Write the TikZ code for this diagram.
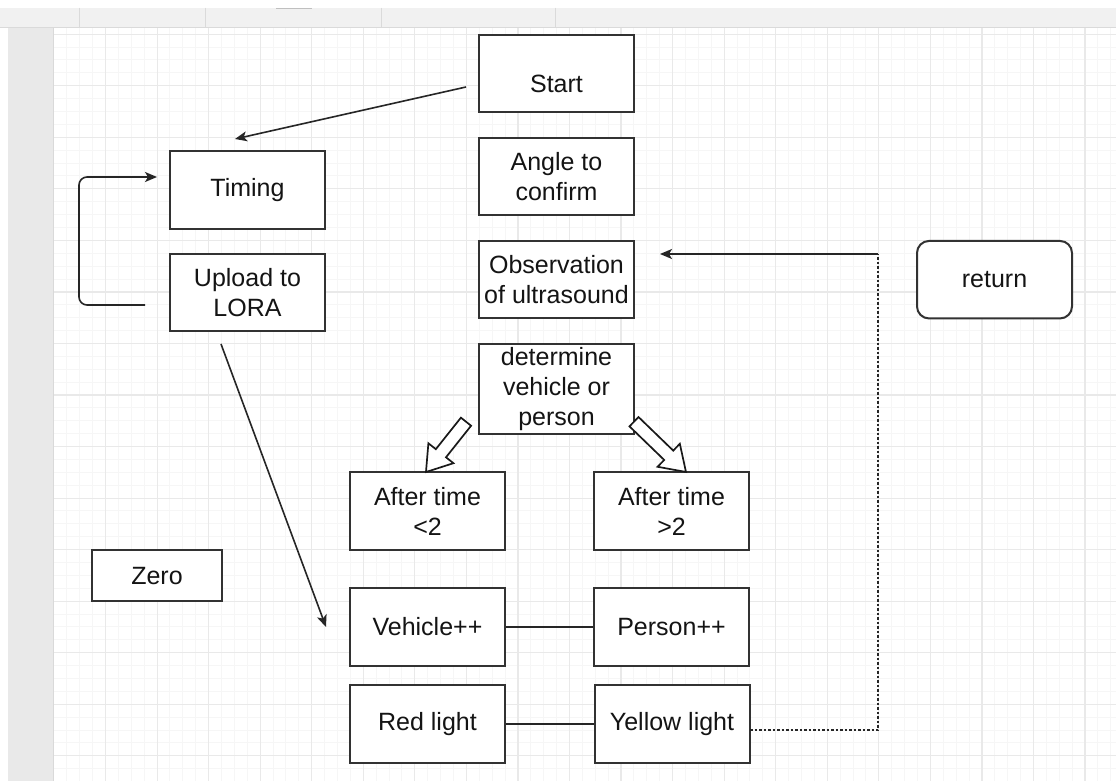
\documentclass[tikz,border=0pt]{standalone}
\usepackage{fontspec}
\setmainfont{Liberation Sans}
\usetikzlibrary{arrows.meta}
\definecolor{gridminor}{RGB}{246,246,246}
\definecolor{gridmajor}{RGB}{233,233,233}
\definecolor{toolbarbg}{RGB}{241,241,241}
\definecolor{toolbarln}{RGB}{218,218,218}
\definecolor{sidebarbg}{RGB}{233,233,233}
\definecolor{boxline}{RGB}{50,50,50}
\definecolor{txtcol}{RGB}{20,20,20}
\begin{document}
\begin{tikzpicture}[x=1pt,y=-1pt,
  box/.style={draw=boxline, line width=2pt, fill=white, minimum width=155pt,
    minimum height=77.5pt, inner sep=0pt, align=center,
    font=\fontsize{25}{30}\selectfont, text=txtcol},
  lbl/.style={inner sep=0pt, font=\fontsize{25}{30}\selectfont, text=txtcol},
  edge/.style={draw=black!85, line width=1.6pt},
  tipped/.style={-{Stealth[length=12pt,width=10pt,inset=3pt]}},
  dottedge/.style={draw=black!85, line width=1.6pt, dash pattern=on 2.5pt off 2pt},
  blockarrow/.style={draw=black!90, line width=1.7pt, fill=white, line join=miter}]
% page and background
\useasboundingbox (0,0) rectangle (1116,781);
\fill[white] (0,0) rectangle (1116,781);
\fill[toolbarbg] (0,7.7) rectangle (1116,27.5);
\draw[toolbarln, line width=1pt] (0,27.5) -- (1116,27.5);
\foreach \xx in {79,205,381.5,555} {\draw[toolbarln, line width=1pt] (\xx,7.7) -- (\xx,27.5);}
\fill[black!25] (275.5,7.7) rectangle (312,9.2);
\fill[sidebarbg] (7.7,28) rectangle (53.6,781);
\draw[black!15, line width=0.8pt] (53.6,28) -- (53.6,781);
% grid
\foreach \i in {1,...,82} {\pgfmathsetmacro\xx{54+\i*12.8875}
  \draw[gridminor, line width=1pt] (\xx,28) -- (\xx,781);}
\foreach \i in {0,...,57} {\pgfmathsetmacro\yy{34.15+\i*12.8875}
  \draw[gridminor, line width=1pt] (54,\yy) -- (1116,\yy);}
\foreach \i in {1,...,20} {\pgfmathsetmacro\xx{54+\i*51.55}
  \draw[gridmajor, line width=1.2pt] (\xx,28) -- (\xx,781);}
\foreach \i in {0,...,14} {\pgfmathsetmacro\yy{34.15+\i*51.55}
  \draw[gridmajor, line width=1.2pt] (54,\yy) -- (1116,\yy);}
% nodes
\node[box] (start) at (556.5,73.5) {};
\node[lbl, anchor=base] (starttxt) at (556.5,92.7) {Start};
\node[box] (angle) at (556.5,176.5) {Angle to\\confirm};
\node[box] (obs) at (556.5,279.5) {Observation\\of ultrasound};
\node[box, minimum height=90pt] (det) at (556.5,389) {determine\\vehicle or\\person};
\node[box] (timing) at (247.5,190) {Timing};
\node[box] (upload) at (247.5,292.5) {Upload to\\LORA};
\node[box, rounded corners=12pt] (ret) at (994.5,279.7) {return};
\node[box] (after1) at (427.5,511) {After time\\<2};
\node[box] (after2) at (671.5,511) {After time\\>2};
\node[box, minimum width=129.4pt, minimum height=51.3pt] (zero) at (157,575.7) {Zero};
\node[box] (veh) at (427.5,627) {Vehicle++};
\node[box] (pers) at (671.5,627) {Person++};
\node[box] (red) at (427.5,724) {Red light};
\node[box] (yel) at (672,724) {Yellow light};
% connector end points (floating ends)
\coordinate (sA) at (466,87);
\coordinate (sB) at (235,139);
\coordinate (lA) at (145,305);
\coordinate (lB) at (79,305);
\coordinate (lC) at (79,177);
\coordinate (lD) at (157,177);
\coordinate (uA) at (221,344);
\coordinate (uB) at (326,627);
\coordinate (yA) at (750,730);
\coordinate (yB) at (878,730);
\coordinate (yC) at (878,254);
\coordinate (yD) at (660,254);
% connectors
\draw[edge, tipped] (sA) -- (sB);
\draw[edge, tipped, rounded corners=8pt] (lA) -- (lB) -- (lC) -- (lD);
\draw[edge, tipped] (uA) -- (uB);
\draw[edge] (veh.east) -- (pers.west);
\draw[edge] (red.east) -- (yel.west);
\draw[dottedge] (yA) -- (yB) -- (yC);
\draw[edge, tipped] (yC) -- (yD);
% block arrows
\begin{scope}[shift={(466,421.7)}, rotate=-128.5]
  \draw[blockarrow] (0,-6.5) -- (40.3,-6.5) -- (40.3,-16) -- (64.3,0) -- (40.3,16) -- (40.3,6.5) -- (0,6.5) -- cycle;
\end{scope}
\begin{scope}[shift={(634,421.7)}, rotate=-44.05]
  \draw[blockarrow] (0,-6.5) -- (48.3,-6.5) -- (48.3,-16) -- (72.3,0) -- (48.3,16) -- (48.3,6.5) -- (0,6.5) -- cycle;
\end{scope}
\end{tikzpicture}
\end{document}
